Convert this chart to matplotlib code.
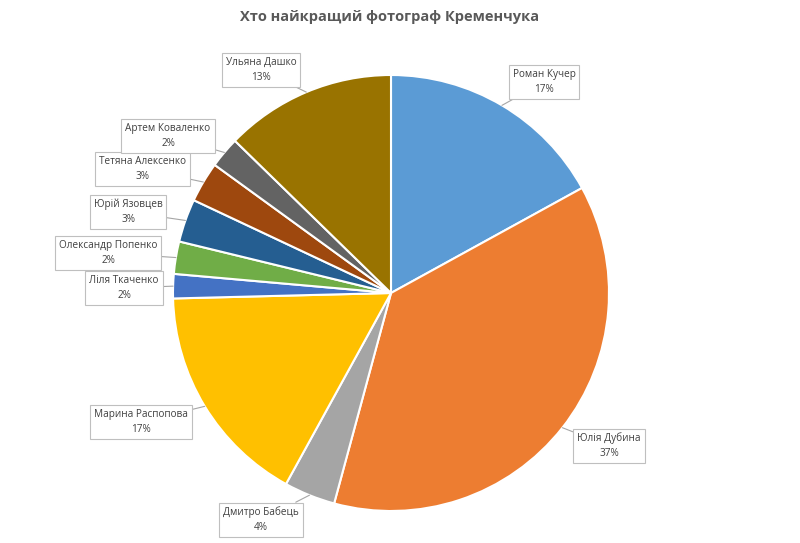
import numpy as np
import matplotlib
matplotlib.use("Agg")
import matplotlib.pyplot as plt

# data (clockwise from 12 o'clock)
names = ["Роман Кучер", "Юлія Дубина", "Дмитро Бабець", "Марина Распопова",
         "Ліля Ткаченко", "Олександр Попенко", "Юрій Язовцев",
         "Тетяна Алексенко", "Артем Коваленко", "Ульяна Дашко"]
shares = [17.0, 37.2, 3.8, 16.6, 1.8, 2.4, 3.2, 3.0, 2.3, 12.7]
colors = ["#5B9BD5", "#ED7D31", "#A5A5A5", "#FFC000", "#4472C4",
          "#70AD47", "#255E91", "#9E480E", "#636363", "#997300"]

# label box centres in pixels (layout only)
label_px = [(544, 82), (609, 446), (261, 520), (141, 422), (124, 288),
            (108, 253), (128, 212), (142, 169), (168, 136), (261, 70)]

W, H = 800, 543
cx, cy, R = 391, 293, 218

plt.rcParams['font.family'] = ['Open Sans', 'DejaVu Sans']
fig = plt.figure(figsize=(W / 100, H / 100), dpi=100)
fig.patch.set_facecolor("white")
ax = fig.add_axes([(cx - R) / W, (H - cy - R) / H, 2 * R / W, 2 * R / H])

wedges, _ = ax.pie(shares, colors=colors, startangle=90, counterclock=False,
                   radius=1, wedgeprops=dict(edgecolor="white", linewidth=1.5))
ax.set_xlim(-1, 1)
ax.set_ylim(-1, 1)
ax.set_aspect("equal")
ax.axis("off")

total = sum(shares)
for w, name, val, (px, py) in zip(wedges, names, shares, label_px):
    mid = np.deg2rad((w.theta1 + w.theta2) / 2)
    tx, ty = np.cos(mid), np.sin(mid)
    lx, ly = (px - cx) / R, (cy - py) / R
    pct = round(val / total * 100)
    ax.annotate(f"{name}\n{pct}%", xy=(tx, ty), xytext=(lx, ly),
                ha="center", va="center", fontsize=7.2, color="#404040",
                linespacing=1.5, annotation_clip=False,
                bbox=dict(boxstyle="square,pad=0.4", fc="white",
                          ec="#BFBFBF", lw=0.8),
                arrowprops=dict(arrowstyle="-", color="#A6A6A6", lw=0.8,
                                shrinkA=0, shrinkB=0))

fig.text(0.4875, 1 - 17 / H, "Хто найкращий фотограф Кременчука",
         ha="center", va="center", fontsize=10.5, fontweight="bold",
         color="#595959")

fig.savefig("out.png", dpi=100, facecolor="white")
